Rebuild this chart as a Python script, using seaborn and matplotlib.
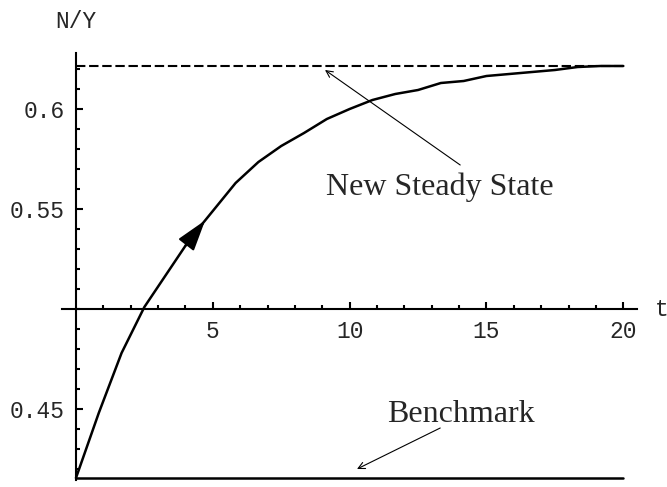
import matplotlib
matplotlib.use("Agg")
import matplotlib.pyplot as plt
import numpy as np
import pandas as pd
import seaborn as sns
from matplotlib.ticker import FixedLocator

sns.set_theme(style="white")
plt.rcParams["font.family"] = ["Liberation Mono", "DejaVu Sans Mono"]

# transition path N/Y, 25 points on t = 0..20
t = np.linspace(0, 20, 25)
ny = [0.4155, 0.448, 0.478, 0.501, 0.518, 0.535, 0.549, 0.563, 0.5735,
      0.5815, 0.588, 0.595, 0.600, 0.6045, 0.6075, 0.6095, 0.613, 0.614,
      0.6165, 0.6175, 0.6185, 0.6195, 0.621, 0.6215, 0.6215]
steady_new = 0.6215
benchmark = 0.4155

x_major = [5, 10, 15, 20]
y_major = [0.45, 0.55, 0.6]
y_major_labels = ["0.45", "0.55", "0.6"]

df = pd.DataFrame({"t": t, "ny": ny})

fig = plt.figure(figsize=(6.67, 4.87), dpi=100)
ax = fig.add_axes([62 / 667, 7 / 487, 575 / 667, 427 / 487])

ax.plot([t[0], t[-1]], [steady_new, steady_new], color="black", lw=1.5,
        ls=(0, (4.5, 1.8)))
ax.plot([t[0], t[-1]], [benchmark, benchmark], color="black", lw=1.8)
sns.lineplot(data=df, x="t", y="ny", color="black", lw=1.8, ax=ax)

# direction arrow on the path
ta, tb = 4.0, 4.72
ax.annotate("", xy=(tb, np.interp(tb, t, ny)), xytext=(ta, np.interp(ta, t, ny)),
            arrowprops=dict(arrowstyle="-|>,head_length=1.6,head_width=0.5",
                            color="black", lw=1.5, shrinkA=0, shrinkB=0))

ax.set_xlim(-0.51, 20.5)
ax.set_ylim(0.4145, 0.628)

for s in ["top", "right"]:
    ax.spines[s].set_visible(False)
ax.spines["left"].set_position(("data", 0))
ax.spines["bottom"].set_position(("data", 0.5))
for s in ["left", "bottom"]:
    ax.spines[s].set_color("black")
    ax.spines[s].set_linewidth(1.5)

ax.xaxis.set_major_locator(FixedLocator(x_major))
ax.xaxis.set_minor_locator(FixedLocator([v for v in range(1, 21) if v % 5]))
ax.yaxis.set_major_locator(FixedLocator(y_major))
ax.set_yticklabels(y_major_labels)
ax.yaxis.set_minor_locator(FixedLocator(np.round(np.arange(0.42, 0.625, 0.01), 2)))
ax.tick_params(which="both", direction="in", color="black", width=1.5,
               bottom=True, left=True)
ax.tick_params(which="major", length=5, labelsize=16.5, pad=8)
ax.tick_params(which="minor", length=3)
ax.set_xlabel("")
ax.set_ylabel("")

ax.text(0, 0.6435, "N/Y", fontsize=16.5, ha="center", va="center")
ax.text(21.4, 0.5, "t", fontsize=16.5, ha="center", va="center", clip_on=False)

serif = ["Liberation Serif", "DejaVu Serif"]
ax.text(13.3, 0.561, "New Steady State", fontsize=23, family=serif,
        ha="center", va="center")
ax.annotate("", xy=(9.1, 0.6195), xytext=(14.04, 0.572),
            arrowprops=dict(arrowstyle="->", color="black", lw=0.8,
                            shrinkA=0, shrinkB=0))
ax.text(14.05, 0.447, "Benchmark", fontsize=23, family=serif,
        ha="center", va="center")
ax.annotate("", xy=(10.27, 0.42), xytext=(13.31, 0.4405),
            arrowprops=dict(arrowstyle="->", color="black", lw=0.8,
                            shrinkA=0, shrinkB=0))

fig.savefig("out.png", dpi=100)
